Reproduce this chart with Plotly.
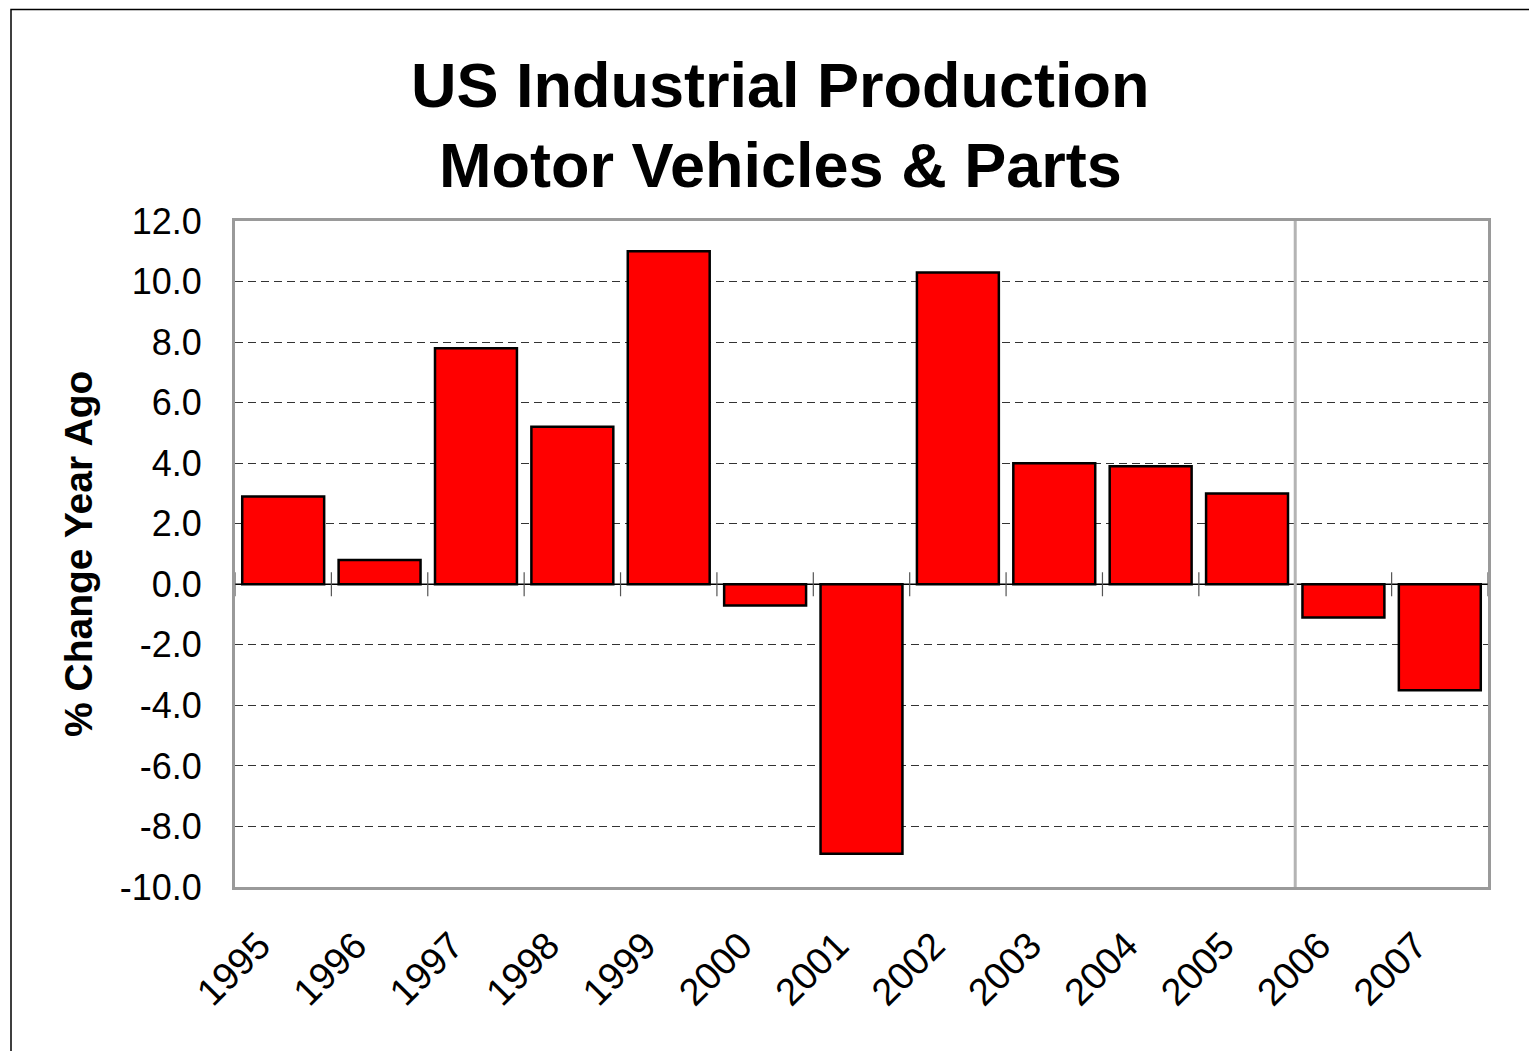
import plotly.graph_objects as go

years = ["1995", "1996", "1997", "1998", "1999", "2000", "2001",
         "2002", "2003", "2004", "2005", "2006", "2007"]
pct_change = [2.9, 0.8, 7.8, 5.2, 11.0, -0.7, -8.9, 10.3, 4.0, 3.9, 3.0, -1.1, -3.5]
y_ticks = [12.0, 10.0, 8.0, 6.0, 4.0, 2.0, 0.0, -2.0, -4.0, -6.0, -8.0, -10.0]

OFF = 8  # default page body margin
W, H = 1537 - OFF, 1051 - OFF
L, R, T, B = 235 - OFF, 49, 221 - OFF, 164
pw, ph = W - L - R, H - T - B


def px_x(x):
    return (x - OFF - L) / pw


def px_y(y):
    return 1 - (y - OFF - T) / ph


fig = go.Figure()
fig.add_trace(go.Bar(
    x=list(range(len(years))), y=pct_change,
    marker=dict(color="#FF0000", line=dict(color="black", width=2.5)),
    width=0.85,
))

shapes = []
# zero line
shapes.append(dict(type="line", xref="x", yref="y", x0=-0.5, x1=len(years) - 0.5,
                   y0=0, y1=0, line=dict(color="black", width=1.5), layer="above"))
# boundary ticks crossing zero line
for k in range(len(years) + 1):
    shapes.append(dict(type="line", xref="x", yref="y", x0=k - 0.5, x1=k - 0.5,
                       y0=-12 / (ph / 22), y1=12 / (ph / 22),
                       line=dict(color="#555555", width=1.2), layer="above"))
# separator line between 2005 and 2006
shapes.append(dict(type="line", xref="x", yref="paper", x0=10.5, x1=10.5, y0=0, y1=1,
                   line=dict(color="#b4b4b4", width=3), layer="above"))
# outer frame
shapes.append(dict(type="rect", xref="paper", yref="paper",
                   x0=px_x(11), x1=1.2, y0=-0.6, y1=px_y(9.5),
                   line=dict(color="black", width=1.5), fillcolor="rgba(0,0,0,0)", layer="below"))

title_lines = ["US Industrial Production", "Motor Vehicles & Parts"]
title_centers = [85, 165]

annotations = [dict(text=f"<b>{t}</b>", xref="paper", yref="paper",
                    x=px_x(780), y=px_y(c), showarrow=False,
                    xanchor="center", yanchor="middle",
                    font=dict(size=63, color="black"))
               for t, c in zip(title_lines, title_centers)]
annotations.append(dict(text="<b>% Change Year Ago</b>", xref="paper", yref="paper",
                        x=px_x(78), y=px_y(554), textangle=-90,
                        showarrow=False, xanchor="center", yanchor="middle",
                        font=dict(size=39, color="black")))

fig.update_layout(
    width=W, height=H,
    margin=dict(l=L, r=R, t=T, b=B),
    paper_bgcolor="white", plot_bgcolor="white",
    showlegend=False,
    font=dict(family="Liberation Sans, Arial, sans-serif", color="black"),
    shapes=shapes,
    annotations=annotations,
)

fig.update_xaxes(
    tickmode="array", tickvals=list(range(len(years))), ticktext=years,
    range=[-0.5, len(years) - 0.5], tickangle=-45,
    tickfont=dict(size=38), ticks="", showgrid=False, zeroline=False,
    showline=True, linecolor="#9a9a9a", linewidth=3, mirror=True,
    ticklabelstandoff=18, ticklabelshift=-24,
)
fig.update_yaxes(
    range=[-10, 12], tickmode="array", tickvals=y_ticks,
    ticktext=[f"{v:.1f}" for v in y_ticks],
    tickfont=dict(size=36), ticks="", zeroline=False,
    showgrid=True, gridcolor="#333333", gridwidth=1, griddash="8px,5px",
    showline=True, linecolor="#9a9a9a", linewidth=3, mirror=True,
    ticklabelstandoff=23,
)

fig.write_html("out.html")
